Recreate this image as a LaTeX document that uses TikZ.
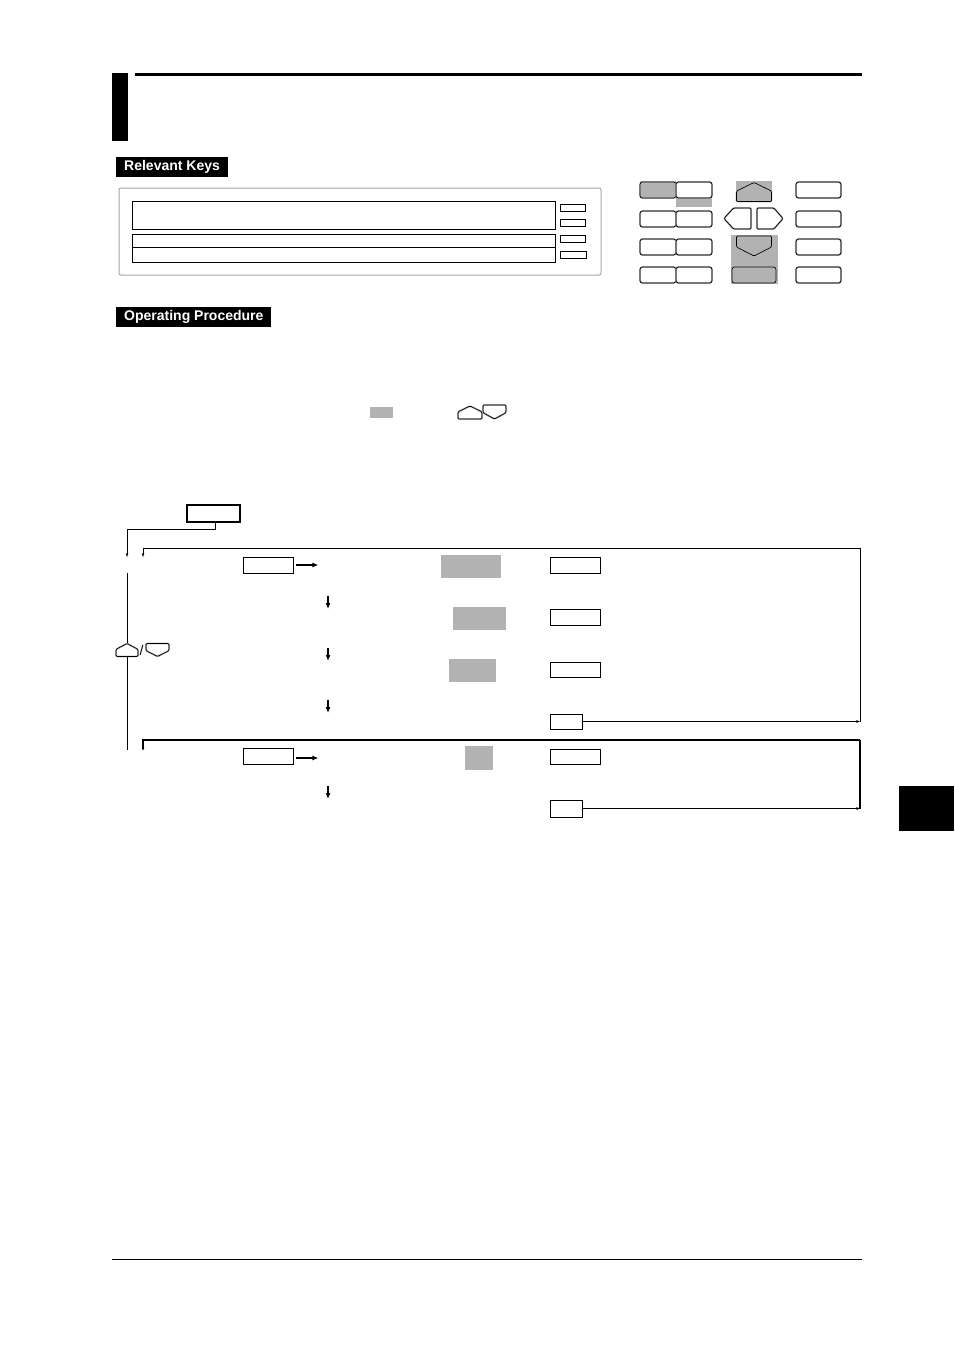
\documentclass[tikz,border=0pt]{standalone}
\usepackage{fontspec}
\setmainfont{Liberation Sans}
\usetikzlibrary{arrows.meta}
\definecolor{keygray}{gray}{0.7}

\tikzset{
  penta/.pic={
    \draw[gray!55, line width=1.8, rounded corners=1.2] (-1,1) -- (1,1) -- (1,-0.1) -- (0,-1) -- (-1,-0.1) -- cycle;
    \draw[line width=0.7, rounded corners=1.2] (-1,1) -- (1,1) -- (1,-0.1) -- (0,-1) -- (-1,-0.1) -- cycle;
  },
  sidepenta/.pic={
    \draw[gray!55, line width=1.8, rounded corners=1.2] (1,-1) -- (1,1) -- (-0.3,1) -- (-1,0) -- (-0.3,-1) -- cycle;
    \draw[line width=0.7, rounded corners=1.2] (1,-1) -- (1,1) -- (-0.3,1) -- (-1,0) -- (-0.3,-1) -- cycle;
  }
}

\begin{document}
\begin{tikzpicture}[x=1pt, y=-1pt,
    tag/.style={fill=black, text=white, font=\fontsize{14}{14}\selectfont\bfseries,
      inner xsep=8pt, inner ysep=0pt, minimum height=20pt, anchor=west},
    keybox/.style={draw, line width=0.8, minimum height=16pt, inner sep=0pt},
    hl/.style={fill=keygray, inner sep=0pt},
    bigarrow/.style={line width=1.8, -{Latex[length=6pt,width=5pt]}},
    tiny/.style={-{Latex[length=3.5pt,width=3pt]}}]
  \useasboundingbox (0,0) rectangle (954,1350);

  % Heading
  \fill (112,73) rectangle (128,141);
  \fill (135,73) rectangle (862,76);

  \node[tag] (relkeys) at (116,167) {Relevant Keys};
  \node[tag] (opproc) at (116,316.5) {Operating Procedure};

  % Display panel
  \draw[gray!70, line width=1, rounded corners=2] (119,188) rectangle (601,275);
  \draw (132,201) rectangle (555,229);
  \draw (132,234) rectangle (555,247);
  \draw (132,247) rectangle (555,262);
  \draw (560,204) rectangle (585,211);
  \draw (560,219) rectangle (585,226);
  \draw (560,235) rectangle (585,242);
  \draw (560,251) rectangle (586,258);

  % Keypad
  \fill[keygray] (640,181) rectangle (676,198);
  \fill[keygray] (676,198) rectangle (712,207);
  \fill[keygray] (736,181) rectangle (772,202);
  \fill[keygray] (731,235) rectangle (778,284);
  \fill[keygray] (732,267) rectangle (776,283);
  \foreach \t/\b in {182/198, 211/227, 239/255, 267/283} {
    \foreach \l/\r in {640/676, 676/712, 796/841} {
      \draw[gray!55, line width=1.8, rounded corners=2.5] (\l,\t) rectangle (\r,\b);
      \draw[line width=0.7, rounded corners=2.5] (\l,\t) rectangle (\r,\b);
    }
  }
  \draw[gray!55, line width=1.8, rounded corners=2.5] (732,267) rectangle (776,283);
  \draw[line width=0.7, rounded corners=2.5] (732,267) rectangle (776,283);
  \pic[xscale=17.5, yscale=9.5] at (754,192) {penta};
  \pic[xscale=17.5, yscale=-10] at (754,246) {penta};
  \pic[xscale=13.5, yscale=10.5] at (737.5,218.5) {sidepenta};
  \pic[xscale=-13, yscale=10.5] at (770,218.5) {sidepenta};

  % Step line
  \fill[keygray] (370,407) rectangle (393,418);
  \pic[xscale=12, yscale=6.5] at (470,412.5) {penta};
  \pic[xscale=11.5, yscale=-7] at (494.5,412) {penta};

  % Flow
  \node[keybox, minimum width=53pt, minimum height=17pt, line width=1.5] (start) at (213.5,513.5) {};
  \node[keybox, minimum width=50pt] (menuA) at (268,565) {};
  \node[keybox, minimum width=50pt] (menuB) at (268,756.5) {};

  \node[hl, minimum width=60pt, minimum height=23pt] (hlA) at (471,566.5) {};
  \node[hl, minimum width=53pt, minimum height=23pt] (hlB) at (479.5,618.5) {};
  \node[hl, minimum width=47pt, minimum height=23pt] (hlC) at (472.5,670.5) {};
  \node[hl, minimum width=28pt, minimum height=24pt] (hlD) at (479,758) {};

  \node[keybox, minimum width=50pt] (selA) at (575,565.5) {};
  \node[keybox, minimum width=50pt] (selB) at (575,617.5) {};
  \node[keybox, minimum width=50pt, minimum height=15pt] (selC) at (575,669.5) {};
  \node[keybox, minimum width=32pt, minimum height=15pt] (endA) at (566,721.5) {};
  \node[keybox, minimum width=50pt, minimum height=15pt] (selD) at (575,756.5) {};
  \node[keybox, minimum width=32pt, minimum height=17pt] (endB) at (566,808.5) {};

  \coordinate (jA) at (127,557);
  \coordinate (jB) at (143,557);
  \coordinate (jC) at (143,751);
  \coordinate (loopA) at (860,548);
  \coordinate (loopB) at (860,740);
  \coordinate (vtop) at (127,573);
  \coordinate (vbot) at (127,750);

  \draw[tiny] ([xshift=1.5pt]start.south) -- ++(0,6) -| (jA);
  \draw[tiny] (endA.east) -- (endA.east -| loopA);
  \draw[tiny] (endA.east -| loopA) -- (loopA) -| (jB);
  \draw[tiny] (endB.east) -- (endB.east -| loopB);
  \draw[line width=1.5] (endB.east -| loopB) -- (loopB);
  \draw[line width=2.6, tiny] (loopB) -| (jC);

  \node[minimum width=53pt, minimum height=13pt, inner sep=0pt] (updn) at (142.5,650) {};
  \pic[xscale=11, yscale=6.5] at (127,650) {penta};
  \node[inner sep=0pt, font=\fontsize{14}{14}\selectfont] (slash) at (141.5,650.5) {/};
  \pic[xscale=11.5, yscale=-6.5] at (157.5,650) {penta};
  \draw (vtop) -- (vtop |- updn.north);
  \draw (vtop |- updn.south) -- (vbot);

  \draw[bigarrow] ([xshift=3pt]menuA.east) -- ++(22,0);
  \draw[bigarrow] ([xshift=3pt,yshift=-1.5pt]menuB.east) -- ++(22,0);
  \foreach \y in {596,648,700,786}
    \draw[bigarrow] (328,\y) -- ++(0,13);

  % Tab and footer
  \fill (899,786) rectangle (954,831);
  \draw[line width=1] (112,1259) -- (862,1259);
\end{tikzpicture}
\end{document}
